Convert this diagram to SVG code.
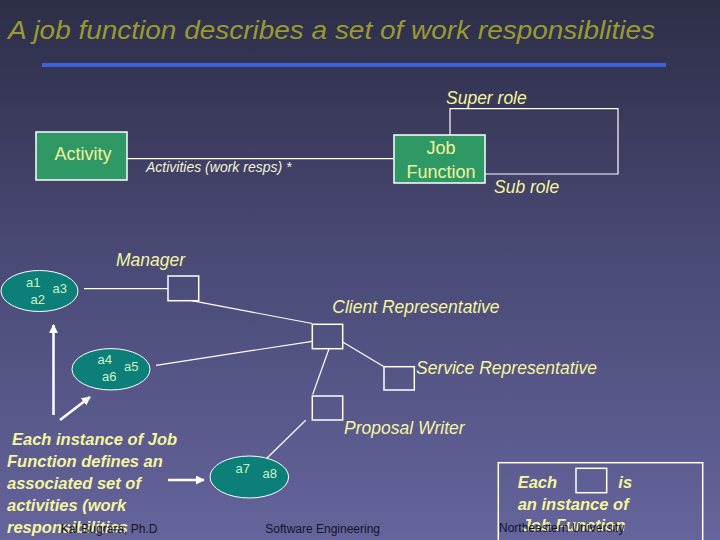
<svg xmlns="http://www.w3.org/2000/svg" width="720" height="540" viewBox="0 0 720 540">
<defs>
<linearGradient id="bg" x1="0" y1="0" x2="0" y2="1">
<stop offset="0" stop-color="#2d2e47"/>
<stop offset="0.5" stop-color="#4b4b78"/>
<stop offset="1" stop-color="#65649c"/>
</linearGradient>
<marker id="ah" viewBox="0 0 10 10" refX="9" refY="5" markerWidth="9" markerHeight="9" markerUnits="userSpaceOnUse" orient="auto">
<path d="M0,0 L10,5 L0,10 z" fill="#ffffff"/>
</marker>
<style>
text{font-family:"Liberation Sans",Arial,sans-serif}
.box{fill:#2f9966;stroke:#ffffff;stroke-width:1.5}
.role{fill:none;stroke:#ffffff;stroke-width:1.5}
.ell{fill:#0b7f78;stroke:#ffffff;stroke-width:1}
.con{fill:none;stroke:#ffffff;stroke-width:1.2}
.arr{fill:none;stroke:#ffffff;stroke-width:2.5}
.lbl{fill:#f5f59e;font-style:italic;font-size:17.5px}
.small{fill:#f3f3d2;font-style:italic;font-size:14px}
.nt{fill:#f3f39c;font-size:18px}
.et{fill:#cdf3c4;font-size:13px}
.note{fill:#f5f59e;font-style:italic;font-weight:bold;font-size:16.5px}
.foot{fill:#14142a;font-size:12px}
</style>
</defs>
<rect x="0" y="0" width="720" height="540" fill="url(#bg)"/>
<text x="8" y="39" font-size="26" font-style="italic" fill="#9a9a32" textLength="647" lengthAdjust="spacingAndGlyphs">A job function describes a set of work responsiblities</text>
<rect x="42" y="63" width="624" height="4" fill="#3d63dc"/>

<g id="connectors">
<line class="con" x1="127" y1="158.7" x2="394" y2="158.7"/>
<polyline class="con" points="450,135 450,108.7 618,108.7 618,174 485,174"/>
<line class="con" x1="84" y1="288.7" x2="168" y2="288.7"/>
<line class="con" x1="191.5" y1="300.7" x2="312.3" y2="323.5"/>
<line class="con" x1="156" y1="365.3" x2="312.3" y2="341.3"/>
<line class="con" x1="342.7" y1="342" x2="384" y2="366.7"/>
<line class="con" x1="329" y1="348.7" x2="312.7" y2="394.5"/>
<line class="con" x1="305.7" y1="420.3" x2="265" y2="460"/>
<line class="arr" x1="53.5" y1="415" x2="53.5" y2="325" marker-end="url(#ah)"/>
<line class="arr" x1="60" y1="420" x2="90" y2="397" marker-end="url(#ah)"/>
<line class="arr" x1="168" y1="480" x2="204" y2="480" marker-end="url(#ah)"/>
</g>
<text class="small" x="146" y="172">Activities (work resps) *</text>
<text class="lbl" x="446" y="104">Super role</text>
<text class="lbl" x="494" y="193">Sub role</text>

<g id="activity">
<rect class="box" x="36" y="132" width="91" height="48"/>
<text class="nt" x="83" y="160" text-anchor="middle">Activity</text>
</g>
<g id="job-function">
<rect class="box" x="394" y="135" width="91" height="48"/>
<text class="nt" x="441" y="154" text-anchor="middle" font-size="19">Job</text>
<text class="nt" x="441" y="178" text-anchor="middle" font-size="19">Function</text>
</g>

<g id="activities-1">
<ellipse class="ell" cx="39.5" cy="291" rx="38.5" ry="20.5"/>
<text class="et" x="26" y="287">a1</text>
<text class="et" x="52.5" y="293">a3</text>
<text class="et" x="30.5" y="304">a2</text>
</g>
<g id="activities-2">
<ellipse class="ell" cx="111" cy="369.3" rx="39" ry="20.7"/>
<text class="et" x="97.5" y="364">a4</text>
<text class="et" x="124" y="371">a5</text>
<text class="et" x="102" y="381">a6</text>
</g>
<g id="activities-3">
<ellipse class="ell" cx="249.3" cy="477" rx="39.3" ry="21"/>
<text class="et" x="235.5" y="472.7">a7</text>
<text class="et" x="262.5" y="478.3">a8</text>
</g>

<g id="manager">
<rect class="role" x="168" y="276" width="30.7" height="24.7"/>
<text class="lbl" x="116" y="266">Manager</text>
</g>
<g id="client-representative">
<rect class="role" x="312.3" y="324.3" width="30.4" height="24.4"/>
<text class="lbl" x="332.3" y="313.3">Client Representative</text>
</g>
<g id="service-representative">
<rect class="role" x="384" y="366.7" width="30.3" height="23.3"/>
<text class="lbl" x="416" y="373.5">Service Representative</text>
</g>
<g id="proposal-writer">
<rect class="role" x="312.3" y="396" width="30.4" height="24"/>
<text class="lbl" x="344" y="433.5">Proposal Writer</text>
</g>

<g id="note">
<text class="note" x="12" y="445">Each instance of Job</text>
<text class="note" x="7" y="467">Function defines an</text>
<text class="note" x="7" y="489">associated set of</text>
<text class="note" x="7" y="511">activities (work</text>
<text class="note" x="7" y="533">responsibilities</text>
</g>

<g id="legend">
<rect class="role" x="498.3" y="462.7" width="204.4" height="90"/>
<rect class="role" x="576" y="468.3" width="30.7" height="24.4"/>
<text class="note" x="517.7" y="488">Each</text>
<text class="note" x="618.3" y="488">is</text>
<text class="note" x="517.7" y="509.5">an instance of</text>
<text class="note" x="521.7" y="531">Job Function</text>
</g>

<text class="foot" x="60.7" y="532.5">Kal Bugrara, Ph.D</text>
<text class="foot" x="265.3" y="533.3">Software Engineering</text>
<text class="foot" x="499" y="532.3">Northeastern University</text>
</svg>
